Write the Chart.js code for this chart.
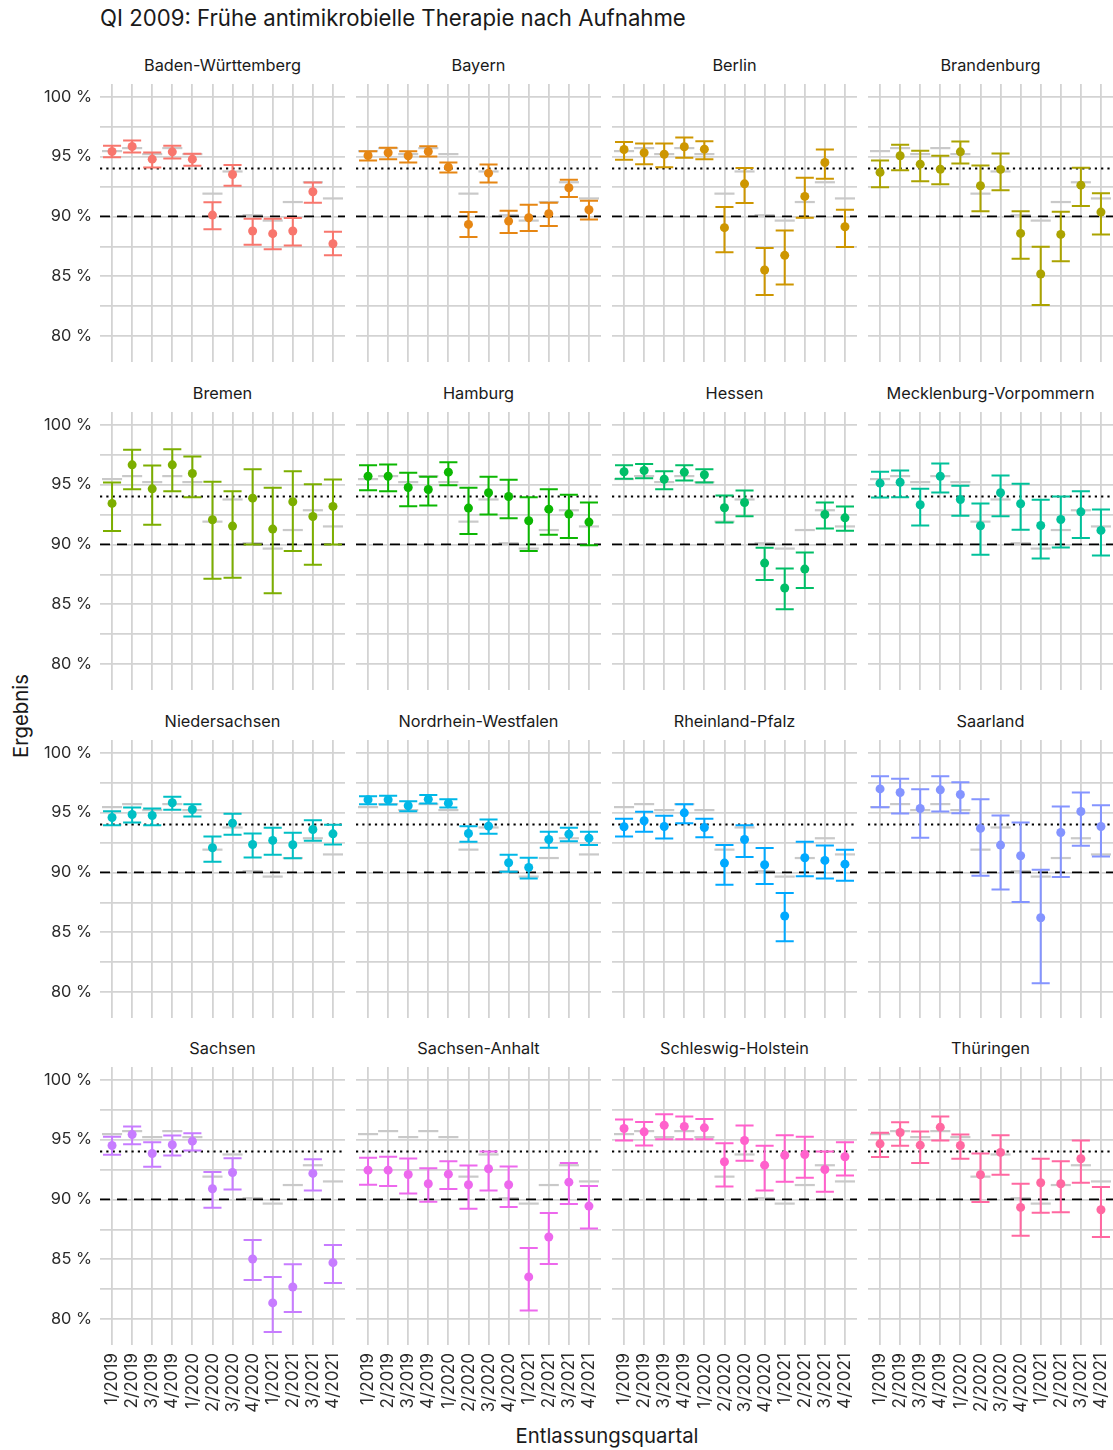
<!DOCTYPE html>
<html lang="de">
<head>
<meta charset="utf-8">
<title>QI 2009: Frühe antimikrobielle Therapie nach Aufnahme</title>
<script src="https://cdn.jsdelivr.net/npm/chart.js@4.4.1/dist/chart.umd.min.js"></script>
<style>
    html, body { margin: 0; padding: 0; background: #fff; }
    body {
        position: relative; width: 1113px; height: 1450px; overflow: hidden;
        font-family: Inter, Roboto, 'Noto Sans', sans-serif; color: #1a1a1a;
    }
    .title { position: absolute; left: 100px; top: 3px; line-height: 30px; white-space: nowrap; }
    .strip { position: absolute; width: 245px; height: 20px; line-height: 20px; text-align: center; color: #1a1a1a; white-space: nowrap; }
    .ytitle { position: absolute; left: 20px; top: 716px; transform: translate(-50%, -50%) rotate(-90deg); white-space: nowrap; }
    .xtitle { position: absolute; left: 607px; top: 1435px; transform: translate(-50%, -50%); white-space: nowrap; }
    canvas { position: absolute; }
</style>
</head>
<body>
<div class="title" id="title">QI 2009: Frühe antimikrobielle Therapie nach Aufnahme</div>
<div class="ytitle" id="ytitle">Ergebnis</div>
<div class="xtitle" id="xtitle">Entlassungsquartal</div>

<script>
// QI 2009 facet plot — one Chart.js canvas per Bundesland

/* ── Data ──────────────────────────────────────────────── */
const QUARTERS = ['1/2019', '2/2019', '3/2019', '4/2019', '1/2020', '2/2020',
                  '3/2020', '4/2020', '1/2021', '2/2021', '3/2021', '4/2021'];
const Y_TICKS = [80, 82.5, 85, 87.5, 90, 92.5, 95, 97.5, 100];
const REF_DASHED = 90;   // Referenzbereich
const REF_DOTTED = 94;   // Bundesdurchschnitt gesamt

// Bundeswert je Quartal (graue Striche)
const BUND = [95.45, 95.7, 95.2, 95.7, 95.2, 91.9, 93.75, 90.1, 89.65, 91.2, 92.85, 91.5];

const STATES = ['Baden-Württemberg', 'Bayern', 'Berlin', 'Brandenburg',
                'Bremen', 'Hamburg', 'Hessen', 'Mecklenburg-Vorpommern',
                'Niedersachsen', 'Nordrhein-Westfalen', 'Rheinland-Pfalz', 'Saarland',
                'Sachsen', 'Sachsen-Anhalt', 'Schleswig-Holstein', 'Thüringen'];

const ERG_BW = [95.42, 95.83, 94.78, 95.39, 94.78, 90.11, 93.5, 88.78, 88.56, 88.78, 92.06, 87.72];
const LO_BW  = [94.94, 95.33, 94.08, 94.83, 94.22, 88.92, 92.56, 87.64, 87.25, 87.58, 91.14, 86.75];
const HI_BW  = [95.89, 96.33, 95.33, 95.89, 95.22, 91.19, 94.28, 89.81, 89.81, 89.86, 92.83, 88.72];

const ERG_BY = [95.08, 95.31, 95.06, 95.42, 94.11, 89.33, 93.61, 89.61, 89.89, 90.22, 92.39, 90.56];
const LO_BY  = [94.67, 94.78, 94.5, 95.0, 93.67, 88.28, 92.83, 88.61, 88.78, 89.19, 91.61, 89.75];
const HI_BY  = [95.44, 95.72, 95.44, 95.86, 94.5, 90.36, 94.33, 90.47, 90.97, 91.14, 93.06, 91.31];

const ERG_BE = [95.58, 95.31, 95.19, 95.81, 95.61, 89.06, 92.72, 85.53, 86.75, 91.67, 94.5, 89.14];
const LO_BE  = [94.72, 94.36, 94.11, 94.89, 94.78, 87.0, 91.11, 83.44, 84.31, 89.89, 93.14, 87.44];
const HI_BE  = [96.22, 96.08, 96.08, 96.58, 96.28, 90.78, 94.03, 87.36, 88.83, 93.22, 95.58, 90.56];

const ERG_BB = [93.67, 95.06, 94.36, 93.94, 95.39, 92.56, 93.92, 88.58, 85.19, 88.5, 92.61, 90.36];
const LO_BB  = [92.44, 93.86, 92.94, 92.69, 94.42, 90.44, 92.19, 86.47, 82.61, 86.25, 90.86, 88.5];
const HI_BB  = [94.67, 95.97, 95.47, 95.06, 96.25, 94.25, 95.25, 90.44, 87.47, 90.39, 94.06, 91.94];

const ERG_HB = [93.42, 96.64, 94.64, 96.64, 95.92, 92.06, 91.53, 93.86, 91.28, 93.56, 92.33, 93.17];
const LO_HB  = [91.11, 94.61, 91.64, 94.44, 93.94, 87.14, 87.22, 90.0, 85.92, 89.44, 88.31, 90.0];
const HI_HB  = [95.17, 97.89, 96.58, 97.94, 97.33, 95.22, 94.44, 96.28, 94.72, 96.11, 95.03, 95.42];

const ERG_HH = [95.69, 95.69, 94.75, 94.58, 96.03, 93.03, 94.31, 94.0, 91.97, 92.94, 92.53, 91.86];
const LO_HH  = [94.53, 94.44, 93.19, 93.25, 94.94, 90.86, 92.5, 92.19, 89.44, 90.81, 90.53, 89.92];
const HI_HH  = [96.61, 96.67, 95.97, 95.64, 96.86, 94.72, 95.64, 95.39, 93.94, 94.61, 94.14, 93.5];

const ERG_HE = [96.06, 96.17, 95.44, 96.03, 95.81, 93.06, 93.5, 88.44, 86.36, 87.94, 92.5, 92.22];
const LO_HE  = [95.47, 95.53, 94.61, 95.33, 95.17, 91.83, 92.36, 87.03, 84.58, 86.36, 91.33, 91.14];
const HI_HE  = [96.61, 96.72, 96.11, 96.61, 96.28, 94.08, 94.5, 89.72, 88.0, 89.33, 93.5, 93.17];

const ERG_MV = [95.11, 95.19, 93.31, 95.69, 93.75, 91.56, 94.31, 93.39, 91.58, 92.08, 92.72, 91.17];
const LO_MV  = [93.92, 93.94, 91.58, 94.33, 92.39, 89.14, 92.36, 91.22, 88.83, 89.75, 90.53, 89.08];
const HI_MV  = [96.06, 96.17, 94.64, 96.75, 94.89, 93.42, 95.75, 95.06, 93.72, 94.0, 94.44, 92.92];

const ERG_NI = [94.58, 94.83, 94.75, 95.81, 95.25, 92.06, 94.11, 92.33, 92.67, 92.31, 93.58, 93.22];
const LO_NI  = [93.94, 94.17, 93.94, 95.22, 94.67, 90.89, 93.14, 91.25, 91.47, 91.19, 92.64, 92.33];
const HI_NI  = [95.11, 95.42, 95.33, 96.31, 95.69, 93.0, 94.89, 93.25, 93.72, 93.31, 94.36, 93.97];

const ERG_NW = [96.06, 96.06, 95.56, 96.11, 95.78, 93.25, 93.86, 90.81, 90.42, 92.75, 93.19, 92.86];
const LO_NW  = [95.69, 95.67, 95.11, 95.75, 95.42, 92.56, 93.22, 90.06, 89.5, 92.06, 92.61, 92.28];
const HI_NW  = [96.36, 96.39, 95.94, 96.47, 96.11, 93.86, 94.42, 91.47, 91.22, 93.39, 93.72, 93.39];

const ERG_RP = [93.81, 94.31, 93.83, 94.97, 93.75, 90.78, 92.75, 90.64, 86.36, 91.22, 91.0, 90.69];
const LO_RP  = [93.0, 93.39, 92.83, 94.11, 92.94, 88.97, 91.28, 89.03, 84.25, 89.67, 89.5, 89.31];
const HI_RP  = [94.47, 95.06, 94.72, 95.69, 94.47, 92.28, 93.94, 92.03, 88.28, 92.56, 92.25, 91.89];

const ERG_SL = [96.97, 96.67, 95.33, 96.89, 96.5, 93.67, 92.28, 91.39, 86.22, 93.33, 95.08, 93.83];
const LO_SL  = [95.44, 94.92, 92.89, 95.08, 94.94, 89.72, 88.58, 87.53, 80.75, 89.61, 92.22, 91.33];
const HI_SL  = [98.03, 97.81, 96.94, 98.03, 97.53, 96.11, 94.75, 94.17, 90.22, 95.5, 96.67, 95.61];

const ERG_SN = [94.5, 95.42, 93.83, 94.56, 94.86, 90.89, 92.25, 85.03, 81.36, 82.69, 92.17, 84.72];
const LO_SN  = [93.72, 94.61, 92.72, 93.67, 94.08, 89.31, 90.83, 83.28, 78.94, 80.61, 90.75, 83.03];
const HI_SN  = [95.22, 96.08, 94.78, 95.33, 95.53, 92.28, 93.44, 86.61, 83.53, 84.58, 93.36, 86.19];

const ERG_ST = [92.44, 92.44, 92.08, 91.31, 92.11, 91.22, 92.56, 91.22, 83.53, 86.86, 91.44, 89.44];
const LO_ST  = [91.22, 91.11, 90.5, 89.81, 90.86, 89.22, 90.75, 89.36, 80.72, 84.61, 89.61, 87.58];
const HI_ST  = [93.47, 93.56, 93.42, 92.61, 93.19, 92.83, 94.0, 92.75, 85.94, 88.86, 93.03, 91.11];

const ERG_SH = [95.92, 95.64, 96.19, 96.08, 95.97, 93.14, 94.92, 92.86, 93.69, 93.75, 92.5, 93.56];
const LO_SH  = [94.92, 94.5, 95.03, 95.03, 95.03, 91.08, 93.22, 90.75, 91.47, 91.81, 90.64, 92.0];
const HI_SH  = [96.67, 96.47, 97.11, 96.92, 96.72, 94.69, 96.17, 94.47, 95.36, 95.22, 94.0, 94.78];

const ERG_TH = [94.64, 95.58, 94.53, 96.03, 94.5, 92.06, 93.92, 89.33, 91.39, 91.31, 93.39, 89.14];
const LO_TH  = [93.53, 94.47, 93.03, 94.92, 93.39, 89.78, 92.06, 86.97, 88.89, 88.92, 91.39, 86.86];
const HI_TH  = [95.56, 96.44, 95.67, 96.92, 95.42, 93.83, 95.36, 91.31, 93.39, 93.19, 94.92, 91.03];

const ERGEBNIS = [ERG_BW, ERG_BY, ERG_BE, ERG_BB, ERG_HB, ERG_HH, ERG_HE, ERG_MV,
                  ERG_NI, ERG_NW, ERG_RP, ERG_SL, ERG_SN, ERG_ST, ERG_SH, ERG_TH];
const UNTEN = [LO_BW, LO_BY, LO_BE, LO_BB, LO_HB, LO_HH, LO_HE, LO_MV,
               LO_NI, LO_NW, LO_RP, LO_SL, LO_SN, LO_ST, LO_SH, LO_TH];
const OBEN = [HI_BW, HI_BY, HI_BE, HI_BB, HI_HB, HI_HH, HI_HE, HI_MV,
              HI_NI, HI_NW, HI_RP, HI_SL, HI_SN, HI_ST, HI_SH, HI_TH];

/* ── Styles / layout ───────────────────────────────────── */
const COLORS = ['#F8766D', '#E68613', '#CD9600', '#ABA300', '#7CAE00', '#0CB702', '#00BE67', '#00C19A',
                '#00BFC4', '#00B8E7', '#00A9FF', '#8494FF', '#C77CFF', '#ED68ED', '#FF61CC', '#FF68A1'];
const GRID = '#d3d3d3';
const BUND_GREY = '#c9c9c9';
const TEXT = '#2b2b2b';
const FONT = 'Inter, Roboto, "Noto Sans", sans-serif';

const PANEL_W = 245, PANEL_H = 278;
const COL_X = [100, 356, 612, 868];
const ROW_Y = [84, 412, 740, 1067];
const Y_AXIS_W = 70, X_AXIS_H = 85;

/* ── Font size that makes a text as wide as in the reference ── */
const measureCtx = document.createElement('canvas').getContext('2d');
function fitSize(text, width) {
    measureCtx.font = `100px ${FONT}`;
    return +(100 * width / measureCtx.measureText(text).width).toFixed(2);
}
const SIZE_TITLE = fitSize('QI 2009: Frühe antimikrobielle Therapie nach Aufnahme', 586);
const SIZE_STRIP = fitSize('Baden-Württemberg', 157);
const SIZE_YTICK = fitSize('100 %', 48);
const SIZE_XTICK = fitSize('1/2019', 52);
const SIZE_AXIS = fitSize('Entlassungsquartal', 183);

document.getElementById('title').style.fontSize = SIZE_TITLE + 'px';
document.getElementById('xtitle').style.fontSize = SIZE_AXIS + 'px';
document.getElementById('ytitle').style.fontSize = SIZE_AXIS + 'px';

/* ── Plugin: Bundeswert, Referenzlinien, Fehlerbalken ───── */
function panelLayer(lo, hi, color) {
    return {
        id: 'panelLayer',
        beforeDatasetsDraw(chart) {
            const { ctx, chartArea: a, scales: { x, y } } = chart;
            ctx.save();
            ctx.beginPath();
            ctx.rect(a.left, a.top, a.width, a.height);
            ctx.clip();
            ctx.lineCap = 'butt';

            // grey national value per quarter
            ctx.strokeStyle = BUND_GREY;
            ctx.lineWidth = 2.2;
            BUND.forEach((v, k) => {
                const py = y.getPixelForValue(v);
                ctx.beginPath();
                ctx.moveTo(x.getPixelForValue(k - 0.5), py);
                ctx.lineTo(x.getPixelForValue(k + 0.5), py);
                ctx.stroke();
            });

            // reference lines
            ctx.strokeStyle = '#000';
            ctx.lineWidth = 2;
            ctx.setLineDash([2.2, 4.1]);
            let py = y.getPixelForValue(REF_DOTTED);
            ctx.beginPath(); ctx.moveTo(a.left, py); ctx.lineTo(a.right, py); ctx.stroke();
            ctx.lineWidth = 1.8;
            ctx.setLineDash([10, 7]);
            py = y.getPixelForValue(REF_DASHED);
            ctx.beginPath(); ctx.moveTo(a.left, py); ctx.lineTo(a.right, py); ctx.stroke();
            ctx.setLineDash([]);

            // error bars
            ctx.strokeStyle = color;
            ctx.lineWidth = 2;
            lo.forEach((l, k) => {
                const px = x.getPixelForValue(k);
                const x0 = x.getPixelForValue(k - 0.45);
                const x1 = x.getPixelForValue(k + 0.45);
                const yl = y.getPixelForValue(l);
                const yh = y.getPixelForValue(hi[k]);
                ctx.beginPath();
                ctx.moveTo(px, yl); ctx.lineTo(px, yh);
                ctx.moveTo(x0, yl); ctx.lineTo(x1, yl);
                ctx.moveTo(x0, yh); ctx.lineTo(x1, yh);
                ctx.stroke();
            });
            ctx.restore();
        }
    };
}

// keep every plot area exactly PANEL_W x PANEL_H: no label-driven padding
function noPadding(s) {
    s.paddingTop = 0; s.paddingBottom = 0; s.paddingLeft = 0; s.paddingRight = 0;
}

/* ── Build the 16 panels ───────────────────────────────── */
STATES.forEach((name, i) => {
    const r = Math.floor(i / 4), c = i % 4;
    const showY = c === 0, showX = r === 3;

    const strip = document.createElement('div');
    strip.className = 'strip';
    strip.textContent = name;
    strip.style.fontSize = SIZE_STRIP + 'px';
    strip.style.left = COL_X[c] + 'px';
    strip.style.top = (ROW_Y[r] - 29) + 'px';
    document.body.appendChild(strip);

    const w = PANEL_W + (showY ? Y_AXIS_W : 0);
    const h = PANEL_H + (showX ? X_AXIS_H : 0);
    const cv = document.createElement('canvas');
    cv.width = w; cv.height = h;
    cv.style.width = w + 'px'; cv.style.height = h + 'px';
    cv.style.left = (COL_X[c] - (showY ? Y_AXIS_W : 0)) + 'px';
    cv.style.top = ROW_Y[r] + 'px';
    document.body.appendChild(cv);

    new Chart(cv.getContext('2d'), {
        type: 'scatter',
        data: {
            datasets: [{
                data: ERGEBNIS[i].map((v, k) => ({ x: k, y: v })),
                backgroundColor: COLORS[i],
                borderWidth: 0,
                pointRadius: 4.5,
                pointHoverRadius: 4.5,
            }]
        },
        options: {
            responsive: false,
            animation: false,
            events: [],
            layout: { padding: 0, autoPadding: false },
            plugins: { legend: { display: false }, tooltip: { enabled: false } },
            scales: {
                x: {
                    type: 'linear', min: -0.6, max: 11.6,
                    afterBuildTicks: s => { s.ticks = QUARTERS.map((q, k) => ({ value: k })); },
                    afterFit: s => { s.height = showX ? X_AXIS_H : 0; noPadding(s); },
                    grid: { color: GRID, lineWidth: 1.8, drawTicks: false },
                    border: { display: false },
                    ticks: {
                        display: showX, autoSkip: false, minRotation: 90, maxRotation: 90,
                        padding: 8, color: TEXT, font: { family: FONT, size: SIZE_XTICK },
                        callback: v => QUARTERS[v]
                    }
                },
                y: {
                    type: 'linear', min: 77.85, max: 101.05,
                    afterBuildTicks: s => { s.ticks = Y_TICKS.map(v => ({ value: v })); },
                    afterFit: s => { s.width = showY ? Y_AXIS_W : 0; noPadding(s); },
                    grid: { color: GRID, lineWidth: 1.7, drawTicks: false },
                    border: { display: false },
                    ticks: {
                        display: showY, padding: 8, color: TEXT, font: { family: FONT, size: SIZE_YTICK },
                        callback: v => (v % 5 === 0 ? v + ' %' : '')
                    }
                }
            }
        },
        plugins: [panelLayer(UNTEN[i], OBEN[i], COLORS[i])]
    });
});
</script>
</body>
</html>
